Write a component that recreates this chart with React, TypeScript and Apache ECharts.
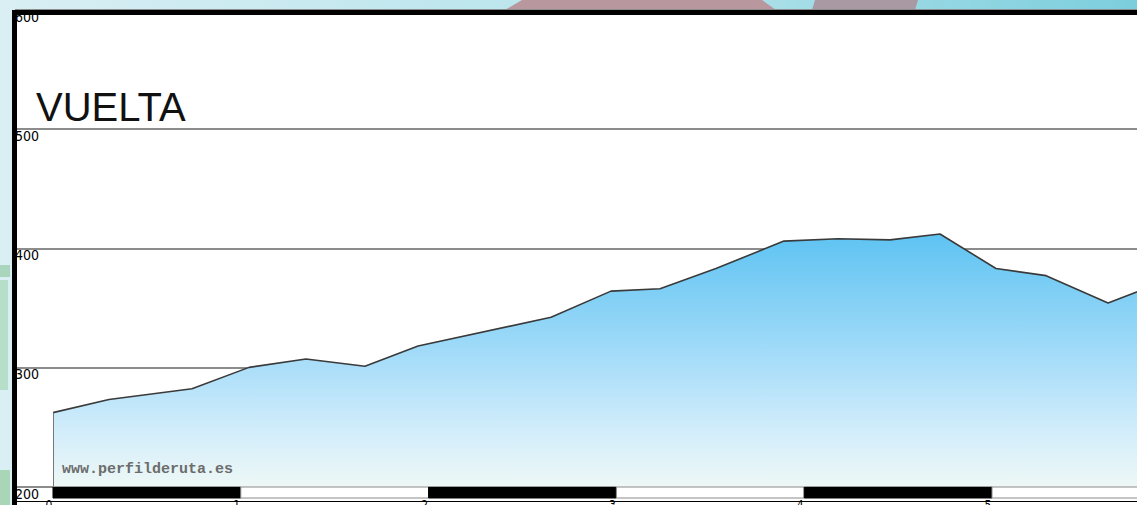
import React, { useEffect, useRef } from "react";
import * as echarts from "echarts";

// Elevation profile (distance in km, elevation in m)
const distKm = [0, 0.298, 0.74, 1.044, 1.347, 1.661, 1.944, 2.652, 2.971, 3.232, 3.53, 3.892, 4.18, 4.457, 4.723, 5.021, 5.288, 5.618, 5.8];
const elevM = [262, 273, 282, 300, 307, 301, 318, 342, 364, 366, 383, 406, 408, 407, 412, 383, 377, 354, 365];

// Axis ranges / ticks
const yMin = 200;
const yMax = 600;
const yStep = 100;
const xMin = -0.2023;
const xMax = 5.772;
const kmLabels = [0, 1, 2, 3, 4, 5];
const scaleStarts = [0, 1, 2, 3, 4, 5];

const titleText = "VUELTA";
const watermark = "www.perfilderuta.es";

export default function App() {
  const ref = useRef<HTMLDivElement>(null);

  useEffect(() => {
    document.body.style.margin = "0";
    const chart = echarts.init(ref.current!, null, { renderer: "svg" });
    const profile = distKm.map((d, i) => [d, elevM[i]]);
    const scaleData = scaleStarts.map((s) => [s, s + 1, s % 2 === 0 ? 1 : 0]);
    const narrow = '"Liberation Sans Narrow", "DejaVu Sans Condensed", sans-serif';

    chart.setOption({
      animation: false,
      title: {
        text: titleText,
        left: 36,
        top: 87,
        padding: 0,
        textStyle: { fontSize: 40, fontWeight: "normal", color: "#111", fontFamily: '"Liberation Sans", Arial, sans-serif' },
      },
      grid: [
        { left: 15, right: 0, top: 10, bottom: 18.5, outerBoundsMode: "none", containLabel: false },
        { left: 15, right: 0, top: 487, height: 11, outerBoundsMode: "none", containLabel: false },
      ],
      xAxis: [
        { type: "value", gridIndex: 0, min: xMin, max: xMax, show: false },
        {
          type: "value",
          gridIndex: 1,
          min: xMin,
          max: xMax,
          position: "bottom",
          offset: 3,
          splitLine: { show: false },
          axisLine: { show: true, onZero: false, lineStyle: { color: "#000", width: 1 } },
          axisTick: { show: false },
          axisLabel: {
            customValues: kmLabels,
            margin: -2,
            fontSize: 12,
            color: "#000",
            fontFamily: narrow,
            padding: [0, 8, 0, 0],
          },
        },
      ],
      yAxis: [
        {
          type: "value",
          gridIndex: 0,
          min: yMin,
          max: yMax,
          interval: yStep,
          axisLine: { show: false },
          axisTick: { show: false },
          splitLine: { show: true, lineStyle: { color: "#8c8c8c", width: 2 } },
          axisLabel: {
            inside: true,
            margin: 0,
            align: "left",
            verticalAlign: "top",
            fontSize: 14,
            color: "#000",
            fontFamily: narrow,
          },
        },
        { type: "value", gridIndex: 1, min: 0, max: 1, show: false },
      ],
      series: [
        {
          type: "line",
          xAxisIndex: 0,
          yAxisIndex: 0,
          data: profile,
          symbol: "none",
          lineStyle: { color: "#3a3a3a", width: 1.6 },
          areaStyle: {
            color: new echarts.graphic.LinearGradient(0, 0, 0, 1, [
              { offset: 0, color: "#5ec3f2" },
              { offset: 0.45, color: "#9fdaf8" },
              { offset: 0.78, color: "#d2edfb" },
              { offset: 1, color: "#eef8f6" },
            ]),
            opacity: 1,
          },
          markLine: {
            silent: true,
            symbol: "none",
            label: { show: false },
            lineStyle: { color: "#777", width: 1, type: "solid" },
            data: [[{ coord: [distKm[0], yMin] }, { coord: [distKm[0], elevM[0]] }]],
          },
          z: 3,
        },
        {
          type: "custom",
          xAxisIndex: 1,
          yAxisIndex: 1,
          data: scaleData,
          renderItem: (params: any, api: any) => {
            const s = api.coord([api.value(0), 0]);
            const e = api.coord([api.value(1), 0]);
            const cs = params.coordSys;
            const dark = api.value(2) === 1;
            return {
              type: "rect",
              shape: { x: s[0], y: cs.y, width: e[0] - s[0], height: cs.height },
              style: { fill: dark ? "#000" : "#fff", stroke: dark ? "#000" : "#8a8a8a", lineWidth: 1 },
            };
          },
        },
      ],
      graphic: [
        {
          type: "rect",
          z: -30,
          shape: { x: 0, y: 0, width: 1137, height: 505 },
          style: {
            fill: new echarts.graphic.LinearGradient(0, 0, 1, 0, [
              { offset: 0, color: "#d9eff4" },
              { offset: 0.6, color: "#b3e2ea" },
              { offset: 1, color: "#7ccedd" },
            ]),
          },
        },
        { type: "polygon", z: -29, shape: { points: [[505, 10], [522, 0], [762, 0], [776, 10]] }, style: { fill: "#b9979f" } },
        { type: "polygon", z: -29, shape: { points: [[812, 10], [815, 0], [918, 0], [915, 10]] }, style: { fill: "#a899a3" } },
        { type: "rect", z: -29, shape: { x: 0, y: 265, width: 10, height: 12 }, style: { fill: "#a9d5bd" } },
        { type: "rect", z: -29, shape: { x: 0, y: 280, width: 8, height: 110 }, style: { fill: "#b7dec8" } },
        { type: "rect", z: -29, shape: { x: 0, y: 470, width: 10, height: 35 }, style: { fill: "#a9d6b6" } },
        { type: "rect", z: -20, shape: { x: 12, y: 10, width: 1200, height: 600 }, style: { fill: "#fff" } },
        {
          type: "text",
          z: 50,
          left: 62,
          top: 462,
          style: { text: watermark, font: 'bold 15px "Liberation Mono", monospace', fill: "#6c6c6c" },
        },
        {
          type: "rect",
          z: 100,
          shape: { x: 14.5, y: 12.5, width: 1200, height: 600 },
          style: { fill: "none", stroke: "#000", lineWidth: 5 },
        },
      ],
    });
    return () => chart.dispose();
  }, []);

  return <div ref={ref} style={{ width: 1137, height: 505 }} />;
}
